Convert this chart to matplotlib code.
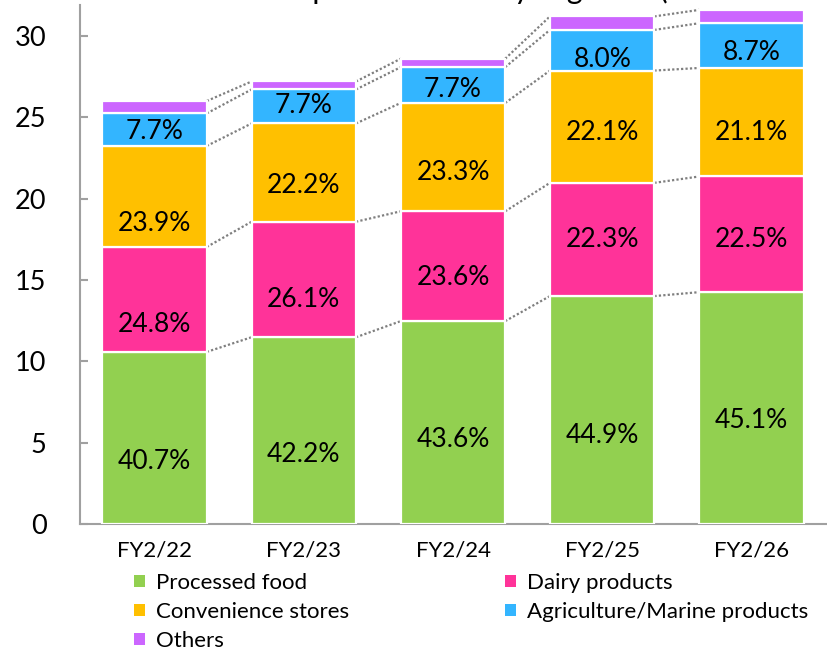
import matplotlib
matplotlib.use("Agg")
import matplotlib.pyplot as plt
from matplotlib.patches import Patch
import numpy as np

plt.rcParams['font.family'] = ['Lato', 'DejaVu Sans']

# ---------------- data ----------------
years = ["FY2/22", "FY2/23", "FY2/24", "FY2/25", "FY2/26"]
segments = ["Processed food", "Dairy products", "Convenience stores",
            "Agriculture/Marine products", "Others"]

# net sales by segment (billion yen)
processed_food = [10.58, 11.48, 12.47, 14.01, 14.25]
dairy_products = [6.45, 7.10, 6.75, 6.96, 7.11]
convenience_stores = [6.21, 6.04, 6.66, 6.90, 6.67]
agri_marine = [2.00, 2.09, 2.20, 2.50, 2.75]
others = [0.76, 0.49, 0.52, 0.83, 0.82]

# composition ratio labels printed on the bars
pct_processed = ["40.7%", "42.2%", "43.6%", "44.9%", "45.1%"]
pct_dairy = ["24.8%", "26.1%", "23.6%", "22.3%", "22.5%"]
pct_conv = ["23.9%", "22.2%", "23.3%", "22.1%", "21.1%"]
pct_agri = ["7.7%", "7.7%", "7.7%", "8.0%", "8.7%"]

y_ticks = [0, 5, 10, 15, 20, 25, 30]
title_text = "Net sales composition ratio by segment (100 million yen)"

# ---------------- style / layout ----------------
colors = ["#92D050", "#FF3399", "#FFC000", "#33B5FF", "#CC66FF"]
# manual vertical nudges of the ratio labels (pixels, negative = down)
nudge_processed = [-24, -24, -17, -25, -12]
nudge_dairy = [-25, -20, -11, 0, -5]
nudge_conv = [-27, -13, -15, -6, -10]
nudge_agri = [-2, 1, -4, -9, -7]

W, H = 827, 657
fig = plt.figure(figsize=(W / 100, H / 100), dpi=100)
ax = fig.add_axes([80 / W, (H - 524) / H, 746 / W, 519 / H])

series = [processed_food, dairy_products, convenience_stores, agri_marine, others]
labels = [pct_processed, pct_dairy, pct_conv, pct_agri, None]
nudges = [nudge_processed, nudge_dairy, nudge_conv, nudge_agri, None]

x = np.arange(len(years))
bw = 0.70
bottom = np.zeros(len(years))
tops = []
handles = []
for vals, col, name, labs, nud in zip(series, colors, segments, labels, nudges):
    vals = np.array(vals)
    ax.bar(x, vals, bw, bottom=bottom, color=col, edgecolor="white",
           linewidth=1.6, zorder=3)
    if labs is not None:
        for xi, b, v, lab, n in zip(x, bottom, vals, labs, nud):
            ax.annotate(lab, (xi, b + v / 2), xytext=(0, n * 0.72),
                        textcoords="offset points", ha="center", va="center",
                        fontsize=19, color="black", zorder=5)
    bottom = bottom + vals
    tops.append(bottom.copy())
    handles.append(Patch(facecolor=col, edgecolor="none", label=name))

# dotted connector lines between adjacent bars
for cum in tops:
    for i in range(len(years) - 1):
        ax.plot([x[i] + bw / 2, x[i + 1] - bw / 2], [cum[i], cum[i + 1]],
                color="#7F7F7F", lw=1.6, linestyle=(0, (1, 1)), zorder=2)

ax.set_xlim(-0.5, len(years) - 0.5)
ax.set_ylim(0, 31.9)
ax.set_yticks(y_ticks)
ax.set_xticks(x)
ax.set_xticklabels(years)

for s in ["top", "right"]:
    ax.spines[s].set_visible(False)
for s in ["left", "bottom"]:
    ax.spines[s].set_color("#A0A0A0")
    ax.spines[s].set_linewidth(1.5)

ax.tick_params(axis="y", direction="in", length=6, width=1.5, color="#A0A0A0",
               labelsize=19.5, pad=24)
ax.tick_params(axis="x", length=0, labelsize=16, pad=12)

# legend (row-major order in the picture -> column-major for matplotlib)
order = [0, 2, 4, 1, 3]
fig.legend([handles[i] for i in order], [segments[i] for i in order],
           loc="upper left", bbox_to_anchor=(134 / W, (H - 573) / H),
           ncol=2, frameon=False, fontsize=16, handlelength=0.5,
           handleheight=0.5, handletextpad=0.5, labelspacing=0.4,
           columnspacing=7.0, borderpad=0, borderaxespad=0)

# title, mostly cut off by the top edge of the picture (as in the reference)
renderer = fig.canvas.get_renderer()
probe = fig.text(0, 0, title_text[:title_text.index("p")], fontsize=22)
w_prefix = probe.get_window_extent(renderer).width
probe.remove()
fig.text((312 - w_prefix) / W, 1 + 1.5 / H, title_text, fontsize=22,
         ha="left", va="baseline")

fig.savefig("out.png", dpi=100)
